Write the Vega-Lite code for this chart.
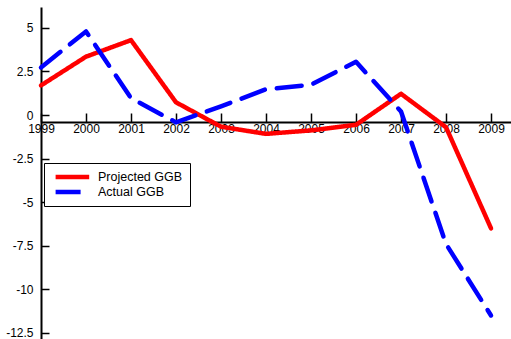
{
  "$schema": "https://vega.github.io/schema/vega-lite/v6.json",
  "width": 470,
  "height": 332,
  "autosize": "none",
  "padding": {"left": 41, "top": 7, "right": 0, "bottom": 0},
  "background": "white",
  "config": {
    "view": {"stroke": null},
    "font": "Liberation Sans",
    "axis": {
      "labelFont": "Liberation Sans",
      "labelFontSize": 12,
      "labelColor": "black",
      "domainColor": "black",
      "domainWidth": 2,
      "tickColor": "black",
      "tickWidth": 1.5,
      "grid": false,
      "title": null
    }
  },
  "data": {
    "values": [
      {"year": 1999, "series": "Projected GGB", "value": 1.7},
      {"year": 2000, "series": "Projected GGB", "value": 3.35},
      {"year": 2001, "series": "Projected GGB", "value": 4.3},
      {"year": 2002, "series": "Projected GGB", "value": 0.73},
      {"year": 2003, "series": "Projected GGB", "value": -0.67},
      {"year": 2004, "series": "Projected GGB", "value": -1.08},
      {"year": 2005, "series": "Projected GGB", "value": -0.88},
      {"year": 2006, "series": "Projected GGB", "value": -0.56},
      {"year": 2007, "series": "Projected GGB", "value": 1.22},
      {"year": 2008, "series": "Projected GGB", "value": -0.7},
      {"year": 2009, "series": "Projected GGB", "value": -6.5},
      {"year": 1999, "series": "Actual GGB", "value": 2.73},
      {"year": 2000, "series": "Actual GGB", "value": 4.8},
      {"year": 2001, "series": "Actual GGB", "value": 0.97},
      {"year": 2002, "series": "Actual GGB", "value": -0.42},
      {"year": 2003, "series": "Actual GGB", "value": 0.5},
      {"year": 2004, "series": "Actual GGB", "value": 1.48},
      {"year": 2005, "series": "Actual GGB", "value": 1.74},
      {"year": 2006, "series": "Actual GGB", "value": 3.06},
      {"year": 2007, "series": "Actual GGB", "value": 0.2},
      {"year": 2008, "series": "Actual GGB", "value": -7.4},
      {"year": 2009, "series": "Actual GGB", "value": -11.5}
    ]
  },
  "mark": {"type": "line", "strokeWidth": 4.5, "strokeCap": "round", "strokeJoin": "round"},
  "encoding": {
    "x": {
      "field": "year",
      "type": "quantitative",
      "scale": {"domain": [1999, 2009.444], "nice": false, "zero": false},
      "axis": {
        "orient": "bottom",
        "offset": -217,
        "values": [1999, 2000, 2001, 2002, 2003, 2004, 2005, 2006, 2007, 2008, 2009],
        "labelExpr": "datum.value + ''",
        "tickSize": -9,
        "labelPadding": 10,
        "labelFlush": false,
        "labelOverlap": false
      }
    },
    "y": {
      "field": "value",
      "type": "quantitative",
      "scale": {"domain": [-12.85, 6.2], "nice": false, "zero": false},
      "axis": {
        "values": [-12.5, -10, -7.5, -5, -2.5, 0, 2.5, 5],
        "labelExpr": "datum.value + ''",
        "tickSize": -8,
        "labelPadding": 16,
        "labelOverlap": false
      }
    },
    "color": {
      "field": "series",
      "type": "nominal",
      "sort": ["Projected GGB", "Actual GGB"],
      "scale": {"domain": ["Projected GGB", "Actual GGB"], "range": ["#ff0000", "#0000ff"]},
      "legend": {
        "title": null,
        "orient": "none",
        "legendX": 3,
        "legendY": 156,
        "strokeColor": "black",
        "fillColor": "white",
        "padding": 7,
        "symbolType": "M-0.7,0L4.1,0",
        "symbolSize": 196,
        "symbolStrokeWidth": 4.5,
        "labelFontSize": 12.5,
        "labelColor": "black",
        "labelOffset": 28,
        "clipHeight": 14,
        "rowPadding": 1
      }
    },
    "strokeDash": {
      "field": "series",
      "type": "nominal",
      "sort": ["Projected GGB", "Actual GGB"],
      "scale": {"domain": ["Projected GGB", "Actual GGB"], "range": [[1, 0], [25, 12]]}
    }
  }
}
